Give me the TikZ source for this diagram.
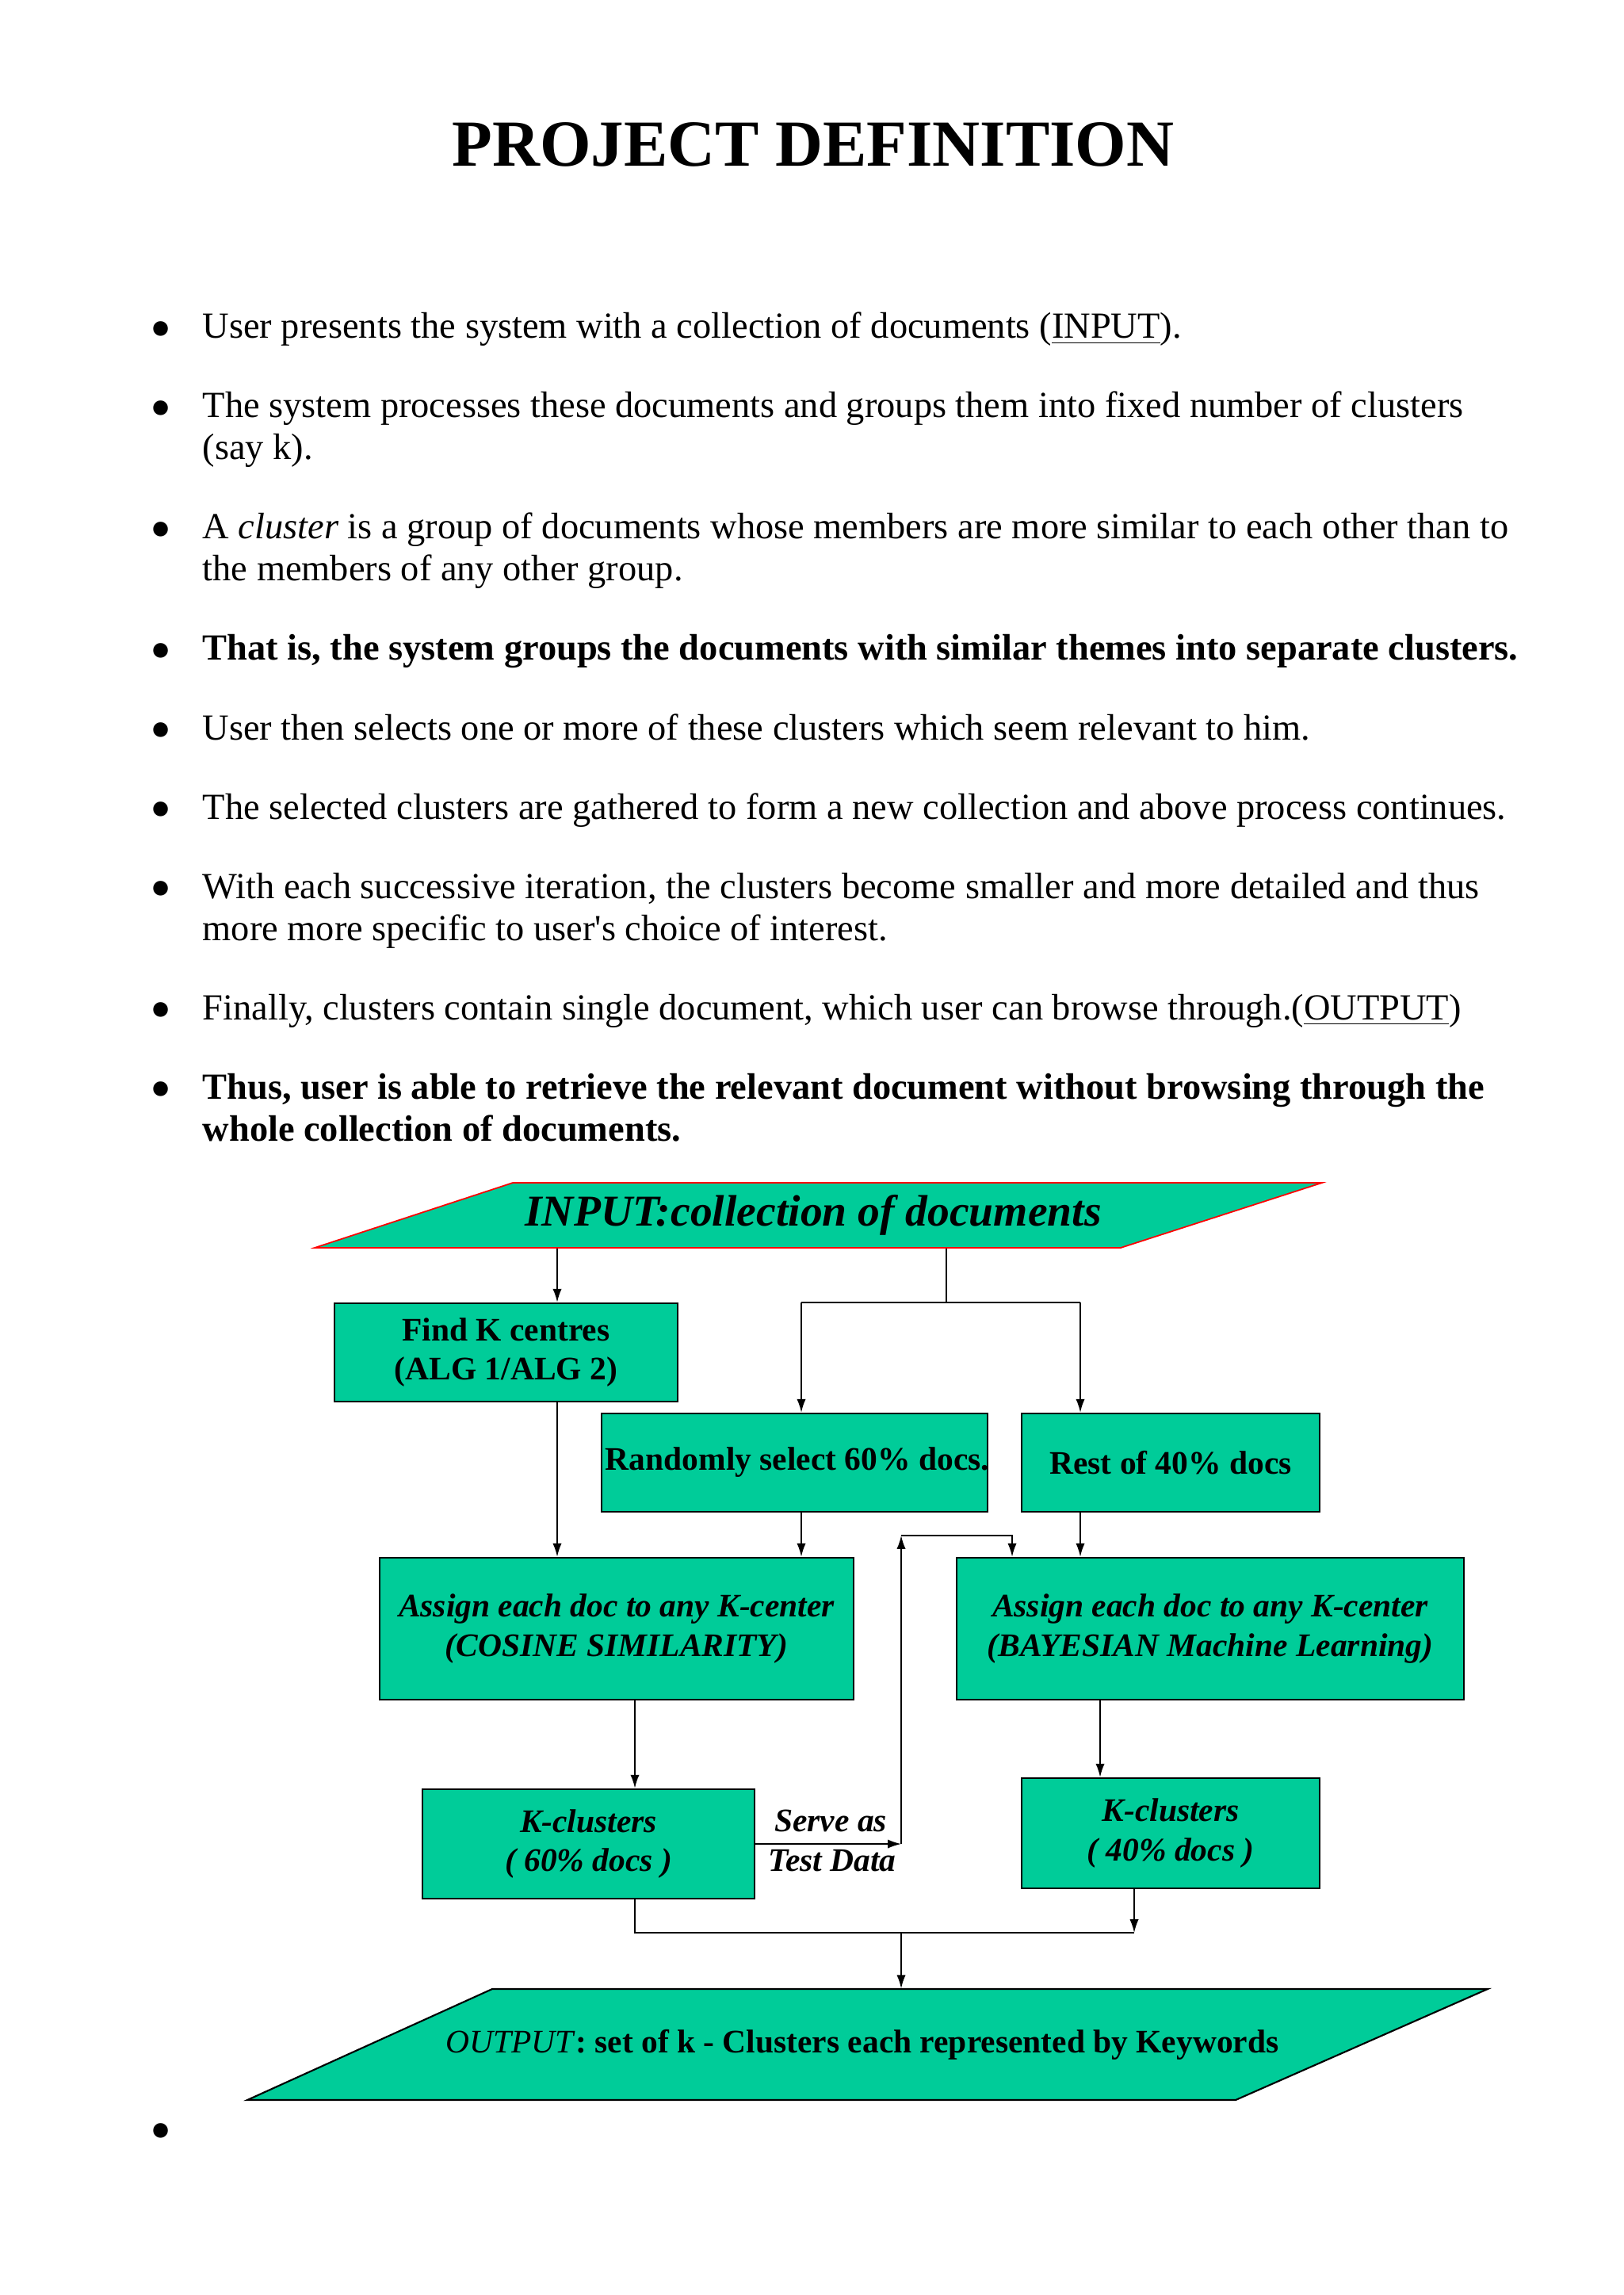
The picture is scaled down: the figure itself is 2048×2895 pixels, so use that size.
\documentclass[tikz,border=0pt]{standalone}
\usepackage{fontspec}
\setmainfont{Liberation Serif}[Ligatures=TeXOff]
\usetikzlibrary{arrows.meta}
\definecolor{boxgreen}{RGB}{0,204,153}
\definecolor{inred}{RGB}{255,0,0}
\begin{document}
\begin{tikzpicture}[x=0.01cm,y=-0.01cm,
  bodytext/.style={anchor=base west, inner sep=0, font=\fontsize{13.2}{15.2}\selectfont},
  bodybold/.style={anchor=base west, inner sep=0, font=\fontsize{13.2}{15.2}\selectfont\bfseries},
  bulletmark/.style={anchor=center, inner sep=0, font=\fontsize{22}{24}\selectfont},
  box/.style={draw=black, line width=0.7pt, fill=boxgreen, inner sep=0, align=center,
    font=\fontsize{11.8}{14.2}\selectfont\bfseries},
  ibox/.style={box, font=\fontsize{11.8}{14.2}\selectfont\bfseries\itshape},
  lbl/.style={inner sep=0, font=\fontsize{11.8}{14.2}\selectfont\bfseries\itshape},
  conn/.style={line width=0.5pt, draw=black},
  arr/.style={conn, -{Latex[length=4.8pt,width=3.2pt]}},
]
\path[use as bounding box, fill=white] (0,0) rectangle (2048,2895);

% title
\node[anchor=base, inner sep=0, font=\fontsize{23.6}{28}\selectfont\bfseries] (title) at (1026,210) {PROJECT DEFINITION};

% bullets
\foreach \n/\y in {b1/427,b2/527,b3/680,b4/833,b5/933,b6/1033,b7/1133,b8/1286,b9/1386,b10/2700}
  \node[bulletmark] (\n) at (203,\y-4) {•};

\node[bodytext] (t1) at (255,427) {User presents the system with a collection of documents (\underline{INPUT}).};
\node[bodytext] (t2a) at (255,527) {The system processes these documents and groups them into fixed number of clusters};
\node[bodytext] (t2b) at (255,580) {(say k).};
\node[bodytext] (t3a) at (255,680) {A \textit{cluster} is a group of documents whose members are more similar to each other than to};
\node[bodytext] (t3b) at (255,733) {the members of any other group.};
\node[bodybold] (t4) at (255,833) {That is, the system groups the documents with similar themes into separate clusters.};
\node[bodytext] (t5) at (255,933) {User then selects one or more of these clusters which seem relevant to him.};
\node[bodytext] (t6) at (255,1033) {The selected clusters are gathered to form a new collection and above process continues.};
\node[bodytext] (t7a) at (255,1133) {With each successive iteration, the clusters become smaller and more detailed and thus};
\node[bodytext] (t7b) at (255,1186) {more more specific to user's choice of interest.};
\node[bodytext] (t8) at (255,1286) {Finally, clusters contain single document, which user can browse through.(\underline{OUTPUT})};
\node[bodybold] (t9a) at (255,1386) {Thus, user is able to retrieve the relevant document without browsing through the};
\node[bodybold] (t9b) at (255,1439) {whole collection of documents.};

% INPUT parallelogram
\filldraw[fill=boxgreen, draw=inred, line width=0.5pt] (647,1492) -- (1668,1492) -- (1414,1574) -- (397,1574) -- cycle;
\node[inner sep=0, minimum width=7.67cm, minimum height=0.82cm,
  font=\fontsize{15.8}{19}\selectfont\bfseries\itshape] (input) at (1026,1533) {INPUT:collection of documents};

% boxes
\node[box, minimum width=4.33cm, minimum height=1.24cm] (findk) at (638.5,1706) {Find K centres\\(ALG 1/ALG 2)};
\node[box, minimum width=4.87cm, minimum height=1.24cm] (randomly) at (1002.5,1845) {\makebox[0pt]{\hspace*{2pt}Randomly select 60\% docs.}};
\node[box, minimum width=3.76cm, minimum height=1.24cm] (rest) at (1477,1845) {Rest of 40\% docs};
\node[ibox, minimum width=5.98cm, minimum height=1.79cm] (assignL) at (778,2054.5) {Assign each doc to any K-center\\(COSINE SIMILARITY)};
\node[ibox, minimum width=6.40cm, minimum height=1.79cm] (assignR) at (1527,2054.5) {Assign each doc to any K-center\\(BAYESIAN Machine Learning)};
\node[ibox, minimum width=4.19cm, minimum height=1.38cm] (k60) at (742.5,2326) {K-clusters\\( 60\% docs )};
\node[ibox, minimum width=3.76cm, minimum height=1.39cm] (k40) at (1477,2312.5) {K-clusters\\( 40\% docs )};

% OUTPUT parallelogram
\filldraw[fill=boxgreen, draw=black, line width=0.6pt] (621,2509) -- (1877,2509) -- (1559,2649) -- (312,2649) -- cycle;
\node[inner sep=0, minimum width=9.38cm, minimum height=1.40cm,
  font=\fontsize{11.8}{14.2}\selectfont\bfseries] (output) at (1088,2579) {\textit{\mdseries OUTPUT}: set of k - Clusters each represented by Keywords};

% labels
\node[lbl] (serve) at (1048,2297) {Serve as};
\node[lbl] (test) at (1050,2347) {Test Data};

% column coordinates
\coordinate (cA) at (703,0);
\coordinate (cB) at (1194,0);
\coordinate (cC) at (1011,0);
\coordinate (cD) at (1363,0);
\coordinate (cE) at (801,0);
\coordinate (cF) at (1388,0);
\coordinate (cG) at (1137,0);
\coordinate (cH) at (1277,0);
\coordinate (cI) at (1431,0);
\coordinate (fb) at (1137,1937);
\coordinate (merge) at (0,2438);

% connectors
\draw[arr] (input.south -| cA) -- (findk.north -| cA);
\draw[conn] (input.south -| cB) -- (findk.north -| cB) coordinate (split);
\draw[conn] (split -| cC) -- (split -| cD);
\draw[arr] (split -| cC) -- (randomly.north -| cC);
\draw[arr] (split -| cD) -- (rest.north -| cD);
\draw[arr] (findk.south -| cA) -- (assignL.north -| cA);
\draw[arr] (randomly.south -| cC) -- (assignL.north -| cC);
\draw[arr] (rest.south -| cD) -- (assignR.north -| cD);
\draw[arr] (assignL.south -| cE) -- (k60.north -| cE);
\draw[arr] (assignR.south -| cF) -- (k40.north -| cF);
\draw[arr] (k60.east) -- (k60.east -| cG);
\draw[arr] (k60.east -| cG) -- (fb);
\draw[arr] (fb) -- (fb -| cH) -- (assignR.north -| cH);
\draw[conn] (k60.south -| cE) -- (merge -| cE) -- (merge -| cI);
\draw[arr] (k40.south -| cI) -- (merge -| cI);
\draw[arr] (merge -| cG) -- (output.north -| cG);
\end{tikzpicture}
\end{document}
